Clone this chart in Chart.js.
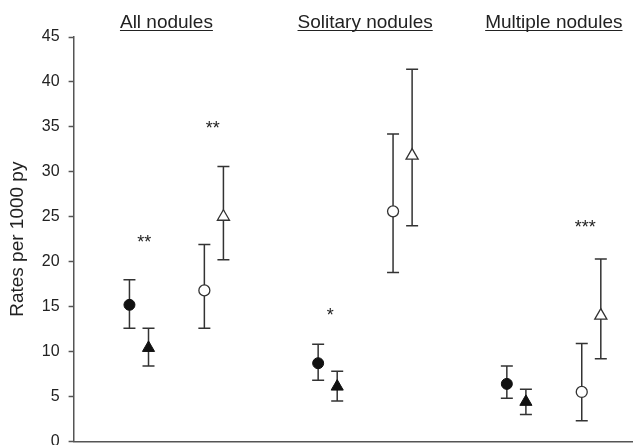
<!DOCTYPE html>
<html>
<head>
<meta charset="utf-8">
<script src="https://cdn.jsdelivr.net/npm/chart.js@4.4.1/dist/chart.umd.min.js"></script>
<style>
  html, body { margin: 0; padding: 0; background: #fff; overflow: hidden; }
  #wrap { width: 641px; height: 460px; position: relative; }
</style>
</head>
<body>
<div id="wrap"><canvas id="chart"></canvas></div>
<script>
// --- データ ---
const groups = ['All nodules', 'Solitary nodules', 'Multiple nodules'];
const yTicks = [0, 5, 10, 15, 20, 25, 30, 35, 40, 45];

// 黒丸
const fcRate = [15.2, 8.7, 6.4];
const fcLow  = [12.6, 6.8, 4.8];
const fcHigh = [18.0, 10.8, 8.4];
// 黒三角
const ftRate = [10.4, 6.1, 4.4];
const ftLow  = [8.4, 4.5, 3.0];
const ftHigh = [12.6, 7.8, 5.8];
// 白丸
const ocRate = [16.8, 25.6, 5.5];
const ocLow  = [12.6, 18.8, 2.3];
const ocHigh = [21.9, 34.2, 10.9];
// 白三角
const otRate = [25.0, 31.8, 14.0];
const otLow  = [20.2, 24.0, 9.2];
const otHigh = [30.6, 41.4, 20.3];

// 有意差の星印（x はグループ番号の軸上）
const sigText = ['**', '**', '*', '***'];
const sigX    = [-0.17, 0.193, 0.815, 2.167];
const sigY    = [22.4, 35.0, 14.2, 24.0];

const textColor = '#222';
const axisColor = '#555';
const fontFamily = '"Liberation Sans", Arial, sans-serif';

function points(rate, low, high, offset) {
  return rate.map((v, i) => ({ x: i + offset, y: v, low: low[i], high: high[i] }));
}

// --- エラーバー ---
const errorBars = {
  id: 'errorBars',
  beforeDatasetsDraw(chart) {
    const { ctx, scales: { x, y } } = chart;
    ctx.save();
    ctx.strokeStyle = '#333';
    ctx.lineWidth = 1.5;
    chart.data.datasets.forEach(ds => {
      ds.data.forEach(p => {
        const px = x.getPixelForValue(p.x);
        const top = y.getPixelForValue(p.high);
        const bot = y.getPixelForValue(p.low);
        ctx.beginPath();
        ctx.moveTo(px, top); ctx.lineTo(px, bot);
        ctx.moveTo(px - 6, top); ctx.lineTo(px + 6, top);
        ctx.moveTo(px - 6, bot); ctx.lineTo(px + 6, bot);
        ctx.stroke();
      });
    });
    ctx.restore();
  }
};

// --- グループ名と星印 ---
const labels = {
  id: 'labels',
  afterDraw(chart) {
    const { ctx, scales: { x, y } } = chart;
    ctx.save();
    ctx.fillStyle = textColor;
    ctx.strokeStyle = textColor;
    ctx.font = '19px ' + fontFamily;
    ctx.textAlign = 'center';
    ctx.textBaseline = 'alphabetic';
    groups.forEach((g, i) => {
      const cx = x.getPixelForValue(i) - (i === 0 ? 10 : 0);
      const w = ctx.measureText(g).width;
      ctx.fillText(g, cx, 27.5);
      ctx.lineWidth = 1.2;
      ctx.beginPath();
      ctx.moveTo(cx - w / 2, 30.5); ctx.lineTo(cx + w / 2, 30.5);
      ctx.stroke();
    });
    ctx.font = '18px ' + fontFamily;
    ctx.textBaseline = 'middle';
    sigText.forEach((t, i) => {
      ctx.fillText(t, x.getPixelForValue(sigX[i]), y.getPixelForValue(sigY[i]) + 2.5);
    });
    ctx.restore();
  }
};

new Chart(document.getElementById('chart'), {
  type: 'scatter',
  data: {
    datasets: [
      { label: 'filled circle', data: points(fcRate, fcLow, fcHigh, -0.249),
        pointStyle: 'circle', pointRadius: 5.5, backgroundColor: '#111', borderColor: '#111', borderWidth: 1 },
      { label: 'filled triangle', data: points(ftRate, ftLow, ftHigh, -0.148),
        pointStyle: 'triangle', pointRadius: 7, backgroundColor: '#111', borderColor: '#111', borderWidth: 1 },
      { label: 'open circle', data: points(ocRate, ocLow, ocHigh, 0.148),
        pointStyle: 'circle', pointRadius: 5.5, backgroundColor: '#fff', borderColor: '#333', borderWidth: 1.3 },
      { label: 'open triangle', data: points(otRate, otLow, otHigh, 0.249),
        pointStyle: 'triangle', pointRadius: 7, backgroundColor: '#fff', borderColor: '#333', borderWidth: 1.3 }
    ]
  },
  options: {
    responsive: true,
    maintainAspectRatio: false,
    animation: false,
    layout: { padding: { top: 37, right: 0, bottom: 0, left: 6 } },
    plugins: { legend: { display: false }, tooltip: { enabled: false } },
    scales: {
      x: {
        type: 'linear',
        min: -0.545,
        max: 2.418,
        ticks: { display: false },
        grid: { display: true, drawOnChartArea: false, drawTicks: false },
        border: { display: true, color: axisColor, width: 1.5 }
      },
      y: {
        min: 0,
        max: 45,
        afterBuildTicks: axis => { axis.ticks = yTicks.map(v => ({ value: v })); },
        ticks: { color: textColor, font: { size: 16, family: fontFamily }, padding: 9 },
        grid: { drawOnChartArea: false, drawTicks: true, tickLength: 5, tickColor: axisColor, tickWidth: 1.5 },
        border: { display: true, color: axisColor, width: 1.5 },
        title: { display: true, text: 'Rates per 1000 py', color: textColor,
                 font: { size: 19, family: fontFamily }, padding: { top: 0, bottom: 4 } }
      }
    }
  },
  plugins: [errorBars, labels]
});
</script>
</body>
</html>
